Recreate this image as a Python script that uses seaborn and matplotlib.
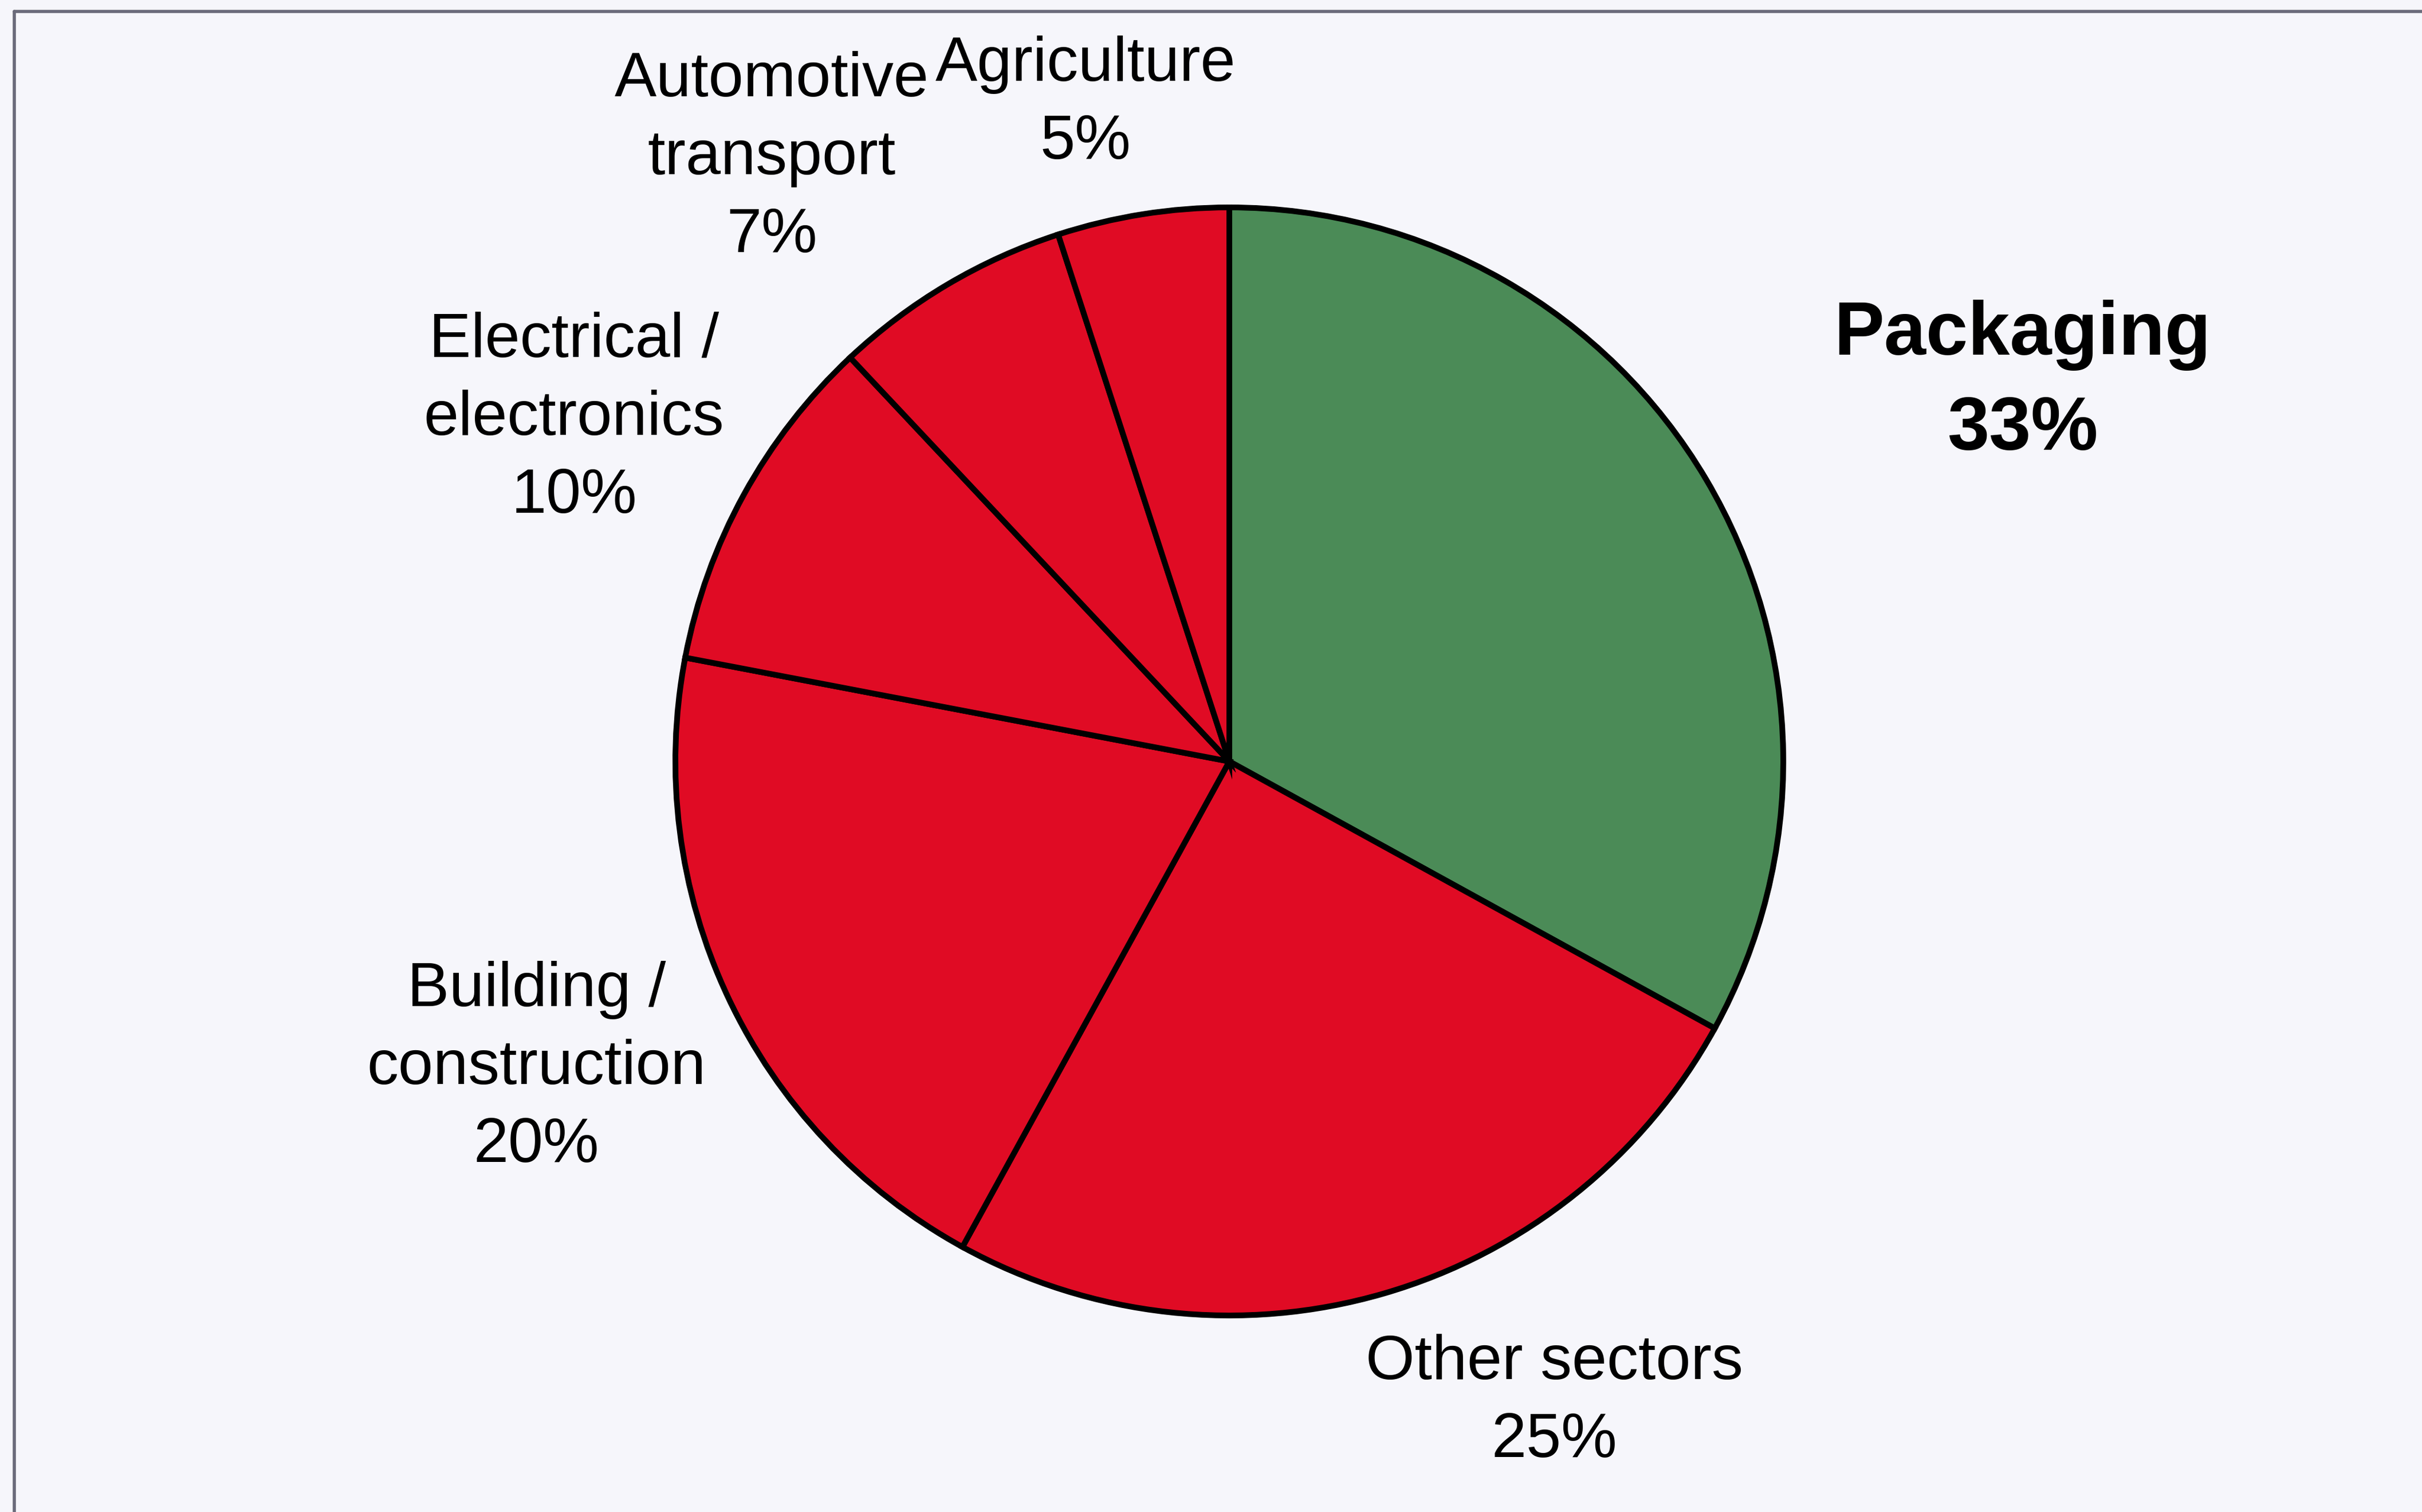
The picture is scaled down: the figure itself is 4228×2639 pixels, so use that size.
import matplotlib
matplotlib.use("Agg")
import matplotlib.pyplot as plt
from matplotlib.lines import Line2D
import seaborn as sns

# ---- data ----
sectors = ["Packaging", "Other sectors", "Building /\nconstruction",
           "Electrical /\nelectronics", "Automotive\ntransport", "Agriculture"]
shares = [33, 25, 20, 10, 7, 5]
highlight = ["Packaging"]

# label anchor (last-line baseline) in pie-radius units
label_x = [1.432, 0.587, -1.251, -1.183, -0.826, -0.260]
label_y = [0.563, -1.255, -0.723, 0.449, 0.919, 1.088]

GREEN = "#4b8b57"
RED = "#e00b24"
BG = "#f6f6fb"

sns.set_theme(style="white")
plt.rcParams["font.family"] = ["Liberation Sans", "DejaVu Sans"]

W, H, DPI = 4228, 2639, 200
fig = plt.figure(figsize=(W / DPI, H / DPI), dpi=DPI)
fig.patch.set_facecolor(BG)
ax = fig.add_axes([0, 0, 1, 1])
ax.set_facecolor(BG)

colors = [GREEN if s in highlight else RED for s in sectors]
ax.pie(shares, colors=colors, startangle=90, counterclock=False,
       radius=1.0, center=(0, 0),
       wedgeprops=dict(edgecolor="black", linewidth=3.6))

# pie centre at (2146, 1329) px, radius 967 px
cx, cy, R = 2146, 1329, 967
ax.set_xlim(-cx / R, (W - cx) / R)
ax.set_ylim(-(H - cy) / R, cy / R)
ax.set_aspect("equal", adjustable="box")
ax.axis("off")

for name, val, x, y in zip(sectors, shares, label_x, label_y):
    bold = name in highlight
    ax.text(x, y, f"{name}\n{val}%", ha="center", va="baseline",
            multialignment="center",
            fontsize=47.4 if bold else 39.5,
            fontweight="bold" if bold else "normal",
            linespacing=1.43, color="black")

# frame (top and left edges visible)
fx = 25 / W
fy = 1 - 20 / H
fig.add_artist(Line2D([fx, 1], [fy, fy], transform=fig.transFigure,
                      color="#6a6a7a", linewidth=2.0))
fig.add_artist(Line2D([fx, fx], [0, fy], transform=fig.transFigure,
                      color="#6a6a7a", linewidth=2.0))

fig.savefig("out.png", dpi=DPI, facecolor=BG)
